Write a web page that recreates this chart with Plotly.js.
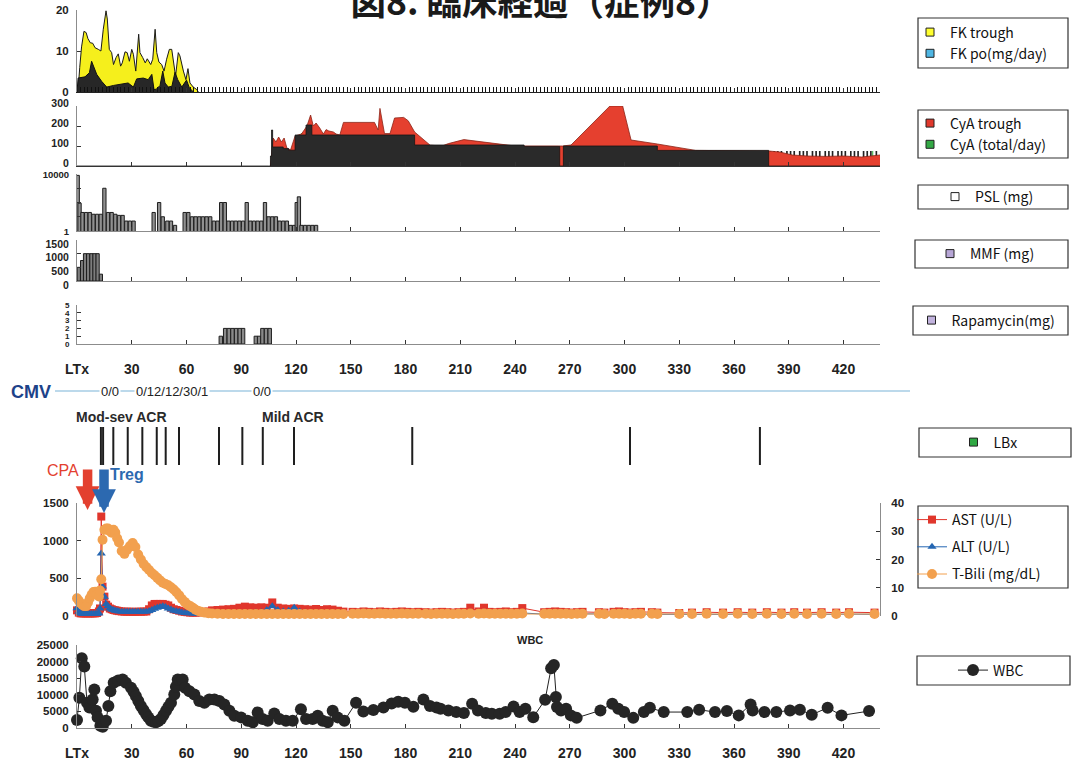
<!DOCTYPE html>
<html><head><meta charset="utf-8">
<script src="https://cdn.plot.ly/plotly-3.0.1.min.js"></script>
<style>html,body{margin:0;padding:0;background:#fff;}#chart{width:1074px;height:763px;}</style>
</head><body><div id="chart"></div>
<script>
// ---------------- DATA ----------------
const titleText = '図8. 臨床経過（症例8）';
const xTickVals = [0,30,60,90,120,150,180,210,240,270,300,330,360,390,420];
const xTickText = ['LTx','30','60','90','120','150','180','210','240','270','300','330','360','390','420'];

// FK panel
const fkTroughDays = [0,0.6,1.5,2.5,3.8,5,6,7.3,8.6,9.9,11.7,13.1,14.4,15.9,16.6,17.7,19,20,21.4,22.6,23.9,24.8,26.3,27.5,28.7,30,30.9,32.2,33.8,34.5,36,37.4,38.5,40.4,41.5,42.8,43.7,44.9,46.4,47.7,49.1,50.6,51.9,52.8,54,55.5,56.4,58.3,59.7,60.8,61.9,63.7,65.6,66.5];
const fkTroughVals = [0,0.5,6,11,14.8,14.5,13,12,11.9,10.8,10.4,10,15.3,19.8,17.8,10.4,9.6,6.7,8.4,9.3,6.3,7.1,9.8,9.6,7.5,10.4,9.2,5.1,14.1,9.6,8.4,7.1,8.1,6.7,8,15.3,9.6,7.3,6.7,5.1,8,10.4,10.4,7.1,3.9,9.6,8.8,5.1,3,5.7,2.2,1.2,0.6,0];
const fkPoDays = [0,0.6,4.4,6.8,8,9,10.8,13.5,16.3,20,23.6,28,30.9,32.7,36.3,39,41,42.2,43.5,45.5,47,48.2,50,52,53.7,55.2,57.4,60,61.6,62.8,63.8];
const fkPoVals = [0,3.4,3.7,4.7,7.5,6.3,4.3,2.6,1.2,1.6,1.8,2.2,1.2,3.2,3.4,3,4.3,0.6,0.7,1.6,5.1,2.2,1.2,1.4,4.8,3,1.2,2.9,1,0.4,0];

// CyA panel
const cyaTotalDays = [0,105,106,106.6,107.2,113,116,119.5,125.5,128.7,185,245,264.5,266.5,318,379,440];
const cyaTotalVals = [0,0,50,180,95,87,79,155,205,155,105,98,0,100,78,0,0];
const cyaTroughDays = [106,107.5,109,110.5,112,113.5,115,117,119.5,123,126,128,129.5,131,133,135,136.5,138,140.5,142,144,146,163,165,166,167.5,168.5,171.5,174,179,181.5,185,193.5,200,203.5,212,232,240,264,266,270.7,292,299,303.6,318,339,379,385,392,400,410,420,430,440];
const cyaTroughVals = [0,140,120,145,120,140,90,80,150,160,200,255,200,215,190,160,182,175,170,160,155,218,218,180,288,200,162,162,240,243,226,170,104,100,112,132,110,100,100,100,105,300,300,130,110,78,75,70,55,50,48,50,45,55];
const cyaCombDays = [380,382,384,386,389,391,393,396,398,400,403,405,407,410,412,414,417,419,421,424,426,428,431,433,435,438];
const cyaCombVals = [75,75,75,75,75,75,75,75,75,75,75,75,75,75,75,75,75,75,75,75,75,75,75,75,75,75];
const cyaGreenDays = [123,209,294,350,436];
const cyaGreenVals = [165,100,100,78,75];

// PSL (log), MMF, Rapamycin
const pslDays = [0.4,1.4,3,5,7,9,11,13,15,17,19,21,23,25,27,29,31,42,45,47,49.5,51.5,53.7,59,61,63,65,67,69,71,73,75,77,79,81,83,85,87,89,91,93,95,97,99,101,103,105,107,109,111,113,115,117,119,120.4,121.6,123,125,127,129,131];
const pslVals = [8000,90,20,20,20,15,15,15,1000,20,20,15,12.5,12.5,5,5,5,20,100,10,5,5,2.5,20,20,10,10,10,10,10,10,5,5,100,100,5,5,5,5,5,100,5,5,5,5,100,10,10,10,5,5,5,2.5,2.5,100,250,2.5,2.5,2.5,2.5,2.5];
const mmfDays = [1.0,2.8,4.4,6.1,7.9,9.6,11.3,13.1];
const mmfVals = [500,750,1000,1000,1000,1000,1000,250];
const rapaDays = [78.8,81.2,83.2,85.2,87.2,89.2,91,98,99.8,101.6,103.6,105.6];
const rapaVals = [1,2,2,2,2,2,2,1,1,2,2,2];

// CMV / biopsies / events
const cmvDays = [18.1,52,101.6];
const cmvText = ['0/0','0/12/12/30/1','0/0'];
const acrDays = [24.5,118.6];
const acrText = ['Mod-sev ACR','Mild ACR'];
const lbxDays = [13.1,14.3,19.9,27.8,35.8,43.7,48.6,55.9,77.8,90.6,101.8,118.9,183.7,303,374.2];
const lbxVals = [1,1,1,1,1,1,1,1,1,1,1,1,1,1,1];
const eventText = ['CPA','Treg'];
const eventDays = [5.8,14.8];

// Liver tests (AST, ALT on left axis; T-Bili on right axis)
const labDays = [0,1,2,3,4,5,6,7,8,9,10,11,12,12.6,13.3,14,15,16,17,18,19,20,21,22,23,
 24.5,26,27.5,29,30.5,32,33.5,35,36.5,38,39.5,41,42.5,44,45.5,47,48.5,50,51.5,53,54.5,56,57.5,59,60.5,62,63.5,65,66.5,
 68,70,72,74,
 77,80,83,86,89,92,95,98,101,104,107,110,113,116,119,122,125,128,131,134,137,140,143,146,
 151,154,157,160,163,166,169,172,175,178,181,184,187,191,194,197,200,203,206,209,212,215.5,220,223,226,229,232,235,238,241,244,256,259,262,265,268,271,274,277,286,289,294,297,300,303,306,309,315,318,330,337,345,354,362,370,378,386,393,400,408,416,423,437];
const astVals = [75,45,35,35,35,35,35,35,35,35,35,40,60,100,1320,390,257,150,124,100,90,80,75,70,65,
 60,57,57,57,55,55,57,57,58,60,90,140,160,160,160,160,150,140,110,90,80,70,60,55,50,45,45,45,48,
 50,55,60,75,
 80,85,90,95,110,124,115,110,115,110,180,110,100,95,100,95,90,85,93,80,90,85,70,58,
 55,50,60,55,50,60,55,50,55,60,55,50,55,50,45,50,55,50,45,50,55,110,60,110,55,50,55,60,50,55,105,50,55,60,55,50,45,50,55,50,45,55,60,50,45,50,55,50,45,40,45,50,45,50,45,50,45,50,45,50,45,50,45];
const altVals = [102,57,35,27,27,27,27,27,27,27,27,27,35,100,830,390,257,160,130,100,85,80,70,65,60,
 58,57,57,56,55,55,55,55,56,57,65,80,95,110,120,130,120,100,85,70,62,55,48,40,37,35,32,30,29,
 28,27,27,27,
 28,30,30,32,35,40,40,45,50,80,130,80,60,70,110,60,45,40,40,35,35,35,30,30,
 30,28,30,32,30,28,30,32,30,28,30,28,30,28,25,28,30,28,25,28,30,45,30,45,28,25,28,30,25,28,40,25,28,30,28,25,22,25,28,25,22,28,30,25,22,25,28,25,22,20,22,25,22,25,22,25,22,25,22,25,22,25,22];
const tbiliVals = [6.3,5.4,4.5,3.9,3.5,3.5,4.8,6.3,7.5,8.5,8.6,7.8,6.9,9,13,27,30.5,31,31,30,29.5,30.5,29.5,27.5,26,
 23,22,23.5,24.8,25.8,24.4,21.8,20,18.4,17.3,16.3,15.2,14.4,13.5,12.6,11.8,11.3,10.9,10.2,9.4,8.4,7.3,6,5,4.1,3.5,2.9,2.2,1.8,
 1.5,1.2,1.0,0.9,
 0.8,0.7,0.7,0.7,0.7,0.7,0.7,0.7,0.7,0.7,0.7,0.7,0.7,0.7,0.7,0.7,0.7,0.7,0.7,0.7,0.7,0.7,0.7,0.7,
 0.8,0.8,0.9,0.8,0.8,0.9,0.8,0.8,0.8,0.9,0.8,0.8,0.8,0.8,0.7,0.8,0.8,0.8,0.7,0.8,0.8,0.9,0.8,0.9,0.8,0.8,0.8,0.8,0.8,0.8,0.9,0.8,0.8,0.8,0.8,0.8,0.7,0.8,0.8,0.8,0.7,0.8,0.8,0.8,0.7,0.8,0.8,0.8,0.7,0.7,0.7,0.8,0.7,0.8,0.7,0.8,0.7,0.8,0.7,0.8,0.7,0.8,0.7];

// WBC
const wbcDays = [0,1.3,2.6,4,5.5,6.8,8.6,9.5,10.4,11.3,12.8,14.1,15.9,17.2,18.3,20.1,22.6,25,26.8,29.6,31,32.3,33.6,35,36.4,37.8,39.1,40.5,42,43.3,44.6,46,47.4,48.8,50.1,51.5,53.3,54.2,55.2,57.9,59.2,61.6,64.3,67,69.8,72.5,75.3,78,80.7,83.5,86.2,89.9,93.5,96.3,99,101.7,104.5,108.1,110.9,114.5,118.2,122.7,125.5,129.1,131.9,134.6,137.4,140.1,142.8,146.5,152.9,156.9,162.4,167.9,172.4,176,179.7,184.3,189.8,193.4,197,199.2,203.5,207.8,212,216.5,219.7,224,227.3,231.6,234.9,239.2,242.5,245.7,250,256.5,259.8,261.3,262.4,263,265.2,268,270.6,273.8,286.8,293.3,296.6,299.8,304.8,310.6,313.9,321.5,334.4,340.9,349.6,356.1,362.6,369.1,370.2,376.7,383.2,390.7,396.1,402.6,411.3,418.9,434];
const wbcVals = [2400,9100,21000,18500,7600,6150,8600,11600,5200,3200,700,400,2200,6650,11100,13600,14300,14600,13600,12100,10900,9600,8100,6650,5400,4200,3200,2200,1900,1700,2100,2700,3900,5200,6400,7600,10100,12400,14600,14600,12100,11100,10100,8100,7600,8600,8600,8100,7100,5200,3700,3200,2200,1700,4700,2700,2200,4400,2700,2200,2200,5650,2700,2700,3700,2200,1700,5200,3200,2200,7600,4940,5400,6200,7400,7900,7600,6400,8600,6600,6200,5800,5300,4800,4500,7300,5300,4500,4300,4300,4800,6500,4800,5800,3250,8500,18000,19000,9350,6300,5300,5800,3800,3050,5300,7300,5800,4800,3050,4800,6100,4800,4800,5500,4800,5100,3800,7100,5300,4800,4800,5300,5500,4000,6100,3800,5100];

// legend-only entries
const legendNames = ['FK trough','FK po(mg/day)','CyA trough','CyA (total/day)','PSL (mg)','MMF (mg)','Rapamycin(mg)','LBx'];
const legendColors = ['#ffff2e','#4fb6e3','#e0382c','#33a845','#ffffff','#b7a6d6','#c2b3de','#2fa843'];
const legendGroups = ['legend','legend','legend2','legend2','legend3','legend4','legend5','legend6'];

// ---------------- LAYOUT HELPERS ----------------
const W = 1074, H = 763;
const PX = x => x / W;
const PY = y => 1 - y / H;
const DOM = (top, bot) => [1 - bot / H, 1 - top / H];
const XD = [77 / W, 880 / W];
const tickFont = {family: 'Liberation Sans, Arial, sans-serif', size: 11.5, color: '#222', weight: 'bold'};
const smallTick = Object.assign({}, tickFont, {size: 10.5});
const xLabFont = {family: 'Liberation Sans, Arial, sans-serif', size: 14, color: '#222', weight: 'bold'};

const traces = [];
// FK
traces.push({type:'scatter', x:fkTroughDays, y:fkTroughVals, xaxis:'x', yaxis:'y', mode:'lines', fill:'tozeroy', fillcolor:'#f5ef1c', line:{color:'#1a1a1a', width:1}, showlegend:false, hoverinfo:'skip'});
traces.push({type:'scatter', x:fkPoDays, y:fkPoVals, xaxis:'x', yaxis:'y', mode:'lines', fill:'tozeroy', fillcolor:'#272727', line:{color:'#111', width:1}, showlegend:false, hoverinfo:'skip'});
// CyA
traces.push({type:'scatter', x:cyaTroughDays, y:cyaTroughVals, xaxis:'x2', yaxis:'y2', mode:'lines', fill:'tozeroy', fillcolor:'#e5402f', line:{color:'#8a2418', width:0.8}, showlegend:false, hoverinfo:'skip'});
traces.push({type:'scatter', x:cyaTotalDays, y:cyaTotalVals, xaxis:'x2', yaxis:'y2', mode:'lines', line:{shape:'hv', color:'#151515', width:0.8}, fill:'tozeroy', fillcolor:'#2a2a2a', showlegend:false, hoverinfo:'skip'});
traces.push({type:'bar', x:cyaCombDays, y:cyaCombVals, xaxis:'x2', yaxis:'y2', width:0.9, marker:{color:'#222'}, showlegend:false, hoverinfo:'skip'});
traces.push({type:'bar', x:cyaGreenDays, y:cyaGreenVals, xaxis:'x2', yaxis:'y2', width:0.6, marker:{color:'#3cb44b'}, showlegend:false, hoverinfo:'skip'});
// PSL / MMF / Rapa
traces.push({type:'bar', x:pslDays, y:pslVals, xaxis:'x3', yaxis:'y3', width:1.8, marker:{color:'#909090', line:{color:'#1e1e1e', width:1}}, showlegend:false, hoverinfo:'skip'});
traces.push({type:'bar', x:mmfDays, y:mmfVals, xaxis:'x4', yaxis:'y4', width:1.75, marker:{color:'#7d7d7d', line:{color:'#1e1e1e', width:1}}, showlegend:false, hoverinfo:'skip'});
traces.push({type:'bar', x:rapaDays, y:rapaVals, xaxis:'x5', yaxis:'y5', width:1.9, marker:{color:'#8a8a8a', line:{color:'#1e1e1e', width:1}}, showlegend:false, hoverinfo:'skip'});
// LBx
traces.push({type:'bar', x:lbxDays, y:lbxVals, xaxis:'x6', yaxis:'y6', width:1.1, marker:{color:'#1e1e1e'}, showlegend:false, hoverinfo:'skip'});
// Labs
traces.push({type:'scatter', x:labDays, y:astVals, xaxis:'x7', yaxis:'y7', mode:'lines+markers', name:'AST (U/L)', legend:'legend7', legendgroup:'a',
  line:{color:'#e0362c', width:1}, marker:{symbol:'square', size:8, color:'#e0362c'}, cliponaxis:false});
traces.push({type:'scatter', x:labDays, y:altVals, xaxis:'x7', yaxis:'y7', mode:'lines+markers', name:'ALT (U/L)', legend:'legend7', legendgroup:'b',
  line:{color:'#2466b2', width:1}, marker:{symbol:'triangle-up', size:8, color:'#2466b2'}, cliponaxis:false});
traces.push({type:'scatter', x:labDays, y:tbiliVals, xaxis:'x7', yaxis:'y8', mode:'lines+markers', name:'T-Bili (mg/dL)', legend:'legend7', legendgroup:'c',
  line:{color:'#f2a04e', width:1}, marker:{symbol:'circle', size:10, color:'#f2a04e'}, cliponaxis:false});
// WBC
traces.push({type:'scatter', x:wbcDays, y:wbcVals, xaxis:'x8', yaxis:'y9', mode:'lines+markers', name:'WBC', legend:'legend8',
  line:{color:'#222', width:1}, marker:{symbol:'circle', size:12, color:'#252525'}, cliponaxis:false});
// legend-only swatches
legendNames.forEach((n, i) => {
  traces.push({type:'scatter', x:[null], y:[null], xaxis:'x', yaxis:'y', mode:'markers', name:n, legend:legendGroups[i],
    marker:{symbol:'square', size:8, color:legendColors[i], line:{color:'#222', width:1}}, hoverinfo:'skip'});
});

const xBase = {domain:XD, range:[0,440], showgrid:false, zeroline:false, showline:true, linecolor:'#8c8c8c', linewidth:1,
  tickmode:'array', tickvals:xTickVals, ticktext:xTickText, ticks:'inside', ticklen:4, tickcolor:'#333', showticklabels:false, fixedrange:true};
const yBase = {showgrid:false, zeroline:false, showline:true, linecolor:'#8c8c8c', linewidth:1, ticks:'inside', ticklen:4, tickcolor:'#333',
  tickfont:tickFont, ticklabelstandoff:5, tickformat:'d', fixedrange:true};

const legFont = {family:'Noto Sans CJK JP, sans-serif', size:14, color:'#111'};
const legAt = (x, y, xa) => ({x:PX(x), y:PY(y), xanchor:xa, yanchor:'middle', bgcolor:'rgba(0,0,0,0)', borderwidth:0, font:legFont, itemwidth:30});

const boxes = [[918,18,1068,68],[918,110,1068,158],[918,185,1068,209],[915,240,1068,268],[913,306,1068,335],[919,428,1071,457],[918,506,1068,588],[917,656,1070,685]];

const shapes = boxes.map(b => ({type:'rect', xref:'paper', yref:'paper', x0:PX(b[0]), x1:PX(b[2]), y0:PY(b[3]), y1:PY(b[1]), line:{color:'#333', width:1.2}, fillcolor:'rgba(0,0,0,0)'}));
shapes.push({type:'line', xref:'paper', yref:'paper', x0:PX(55), x1:PX(910), y0:PY(391), y1:PY(391), line:{color:'#a6cde4', width:1.5}, layer:'below'});

const annotations = [];
annotations.push({xref:'paper', yref:'paper', x:PX(31), y:PY(392), text:'<b>CMV</b>', showarrow:false, xanchor:'center', yanchor:'middle',
  font:{family:'Liberation Sans, Arial, sans-serif', size:18, color:'#1d4289'}});
cmvDays.forEach((d, i) => annotations.push({xref:'x6', yref:'paper', x:d, y:PY(391), text:cmvText[i], showarrow:false, xanchor:'center', yanchor:'middle',
  bgcolor:'#ffffff', font:{family:'Liberation Sans, Arial, sans-serif', size:13, color:'#222'}}));
acrDays.forEach((d, i) => annotations.push({xref:'x6', yref:'paper', x:d, y:PY(417), text:'<b>'+acrText[i]+'</b>', showarrow:false, xanchor:'center', yanchor:'middle',
  font:{family:'Liberation Sans, Arial, sans-serif', size:14, color:'#2a2a2a'}}));
const evColors = ['#e3402f','#2c69b0'];
const evTip = [1407, 1368];
const evTail = [-42, -45];
const evLabelShift = [-25, 23];
const evLabelY = [470, 474];
eventDays.forEach((d, i) => {
  annotations.push({xref:'x7', yref:'y7', x:d, y:evTip[i], ax:0, ay:evTail[i], text:'', showarrow:true, arrowhead:2, arrowsize:0.5, arrowwidth:9.5, arrowcolor:evColors[i], standoff:0});
  annotations.push({xref:'x7', yref:'paper', x:d, xshift:evLabelShift[i], y:PY(evLabelY[i]), text:(i===1?'<b>'+eventText[i]+'</b>':eventText[i]), showarrow:false, xanchor:'center', yanchor:'middle',
    font:{family:'Liberation Sans, Arial, sans-serif', size:16, color:evColors[i]}});
});
annotations.push({xref:'paper', yref:'paper', x:PX(530), y:PY(640), text:'<b>WBC</b>', showarrow:false, xanchor:'center', yanchor:'middle',
  font:{family:'Liberation Sans, Arial, sans-serif', size:11, color:'#222'}});

const layout = {
  width:W, height:H, margin:{l:0, r:0, t:0, b:0}, paper_bgcolor:'#fff', plot_bgcolor:'rgba(0,0,0,0)',
  barmode:'overlay', hovermode:false,
  title:{text:titleText, x:PX(541), xanchor:'center', xref:'container', y:0.997, yanchor:'middle', yref:'container',
    font:{family:'Noto Sans CJK JP, sans-serif', size:35.5, color:'#1a1a1a', weight:'bold'}},
  xaxis: Object.assign({}, xBase, {anchor:'y', linecolor:'#222', tickmode:'linear', tick0:0, dtick:30,
    minor:{tickmode:'linear', tick0:0, dtick:2, ticks:'inside', ticklen:5, tickcolor:'#111'}}),
  xaxis2: Object.assign({}, xBase, {anchor:'y2', matches:'x', linecolor:'#333'}),
  xaxis3: Object.assign({}, xBase, {anchor:'y3', matches:'x'}),
  xaxis4: Object.assign({}, xBase, {anchor:'y4', matches:'x'}),
  xaxis5: Object.assign({}, xBase, {anchor:'y5', matches:'x', showticklabels:true, tickfont:xLabFont, ticklabelstandoff:12}),
  xaxis6: Object.assign({}, xBase, {anchor:'y6', matches:'x', visible:false}),
  xaxis7: Object.assign({}, xBase, {anchor:'y7', matches:'x', showline:false, ticks:''}),
  xaxis8: Object.assign({}, xBase, {anchor:'y9', matches:'x', showticklabels:true, tickfont:xLabFont, ticklabelstandoff:12}),
  yaxis: Object.assign({}, yBase, {anchor:'x', domain:DOM(10,92), range:[0,20], dtick:10}),
  yaxis2: Object.assign({}, yBase, {anchor:'x2', domain:DOM(106,166), range:[0,300], dtick:100, tickfont:smallTick, ticklabelshift:-3}),
  yaxis3: Object.assign({}, yBase, {anchor:'x3', domain:DOM(174,231), type:'log', range:[0,4], tickmode:'array', tickvals:[1,10,100,1000,10000], ticktext:['1','','','','10000'],
    tickfont:Object.assign({}, tickFont, {size:9.5}), ticklabelshift:1}),
  yaxis4: Object.assign({}, yBase, {anchor:'x4', domain:DOM(240,281), range:[0,1500], dtick:500, tickfont:smallTick, ticklabelshift:4}),
  yaxis5: Object.assign({}, yBase, {anchor:'x5', domain:DOM(305,344), range:[0,5], dtick:1, tickfont:Object.assign({}, tickFont, {size:8})}),
  yaxis6: {anchor:'x6', domain:DOM(427,465), range:[0,1], visible:false, fixedrange:true},
  yaxis7: Object.assign({}, yBase, {anchor:'x7', domain:DOM(503,616), range:[0,1500], dtick:500}),
  yaxis8: Object.assign({}, yBase, {anchor:'x7', overlaying:'y7', side:'right', range:[0,40], dtick:10, ticklabelstandoff:8}),
  yaxis9: Object.assign({}, yBase, {anchor:'x8', domain:DOM(645,728), range:[0,25000], dtick:5000}),
  legend: legAt(910,43,'left'),
  legend2: legAt(910,134,'left'),
  legend3: legAt(987,197,'center'),
  legend4: legAt(985,254,'center'),
  legend5: legAt(986,320.5,'center'),
  legend6: legAt(988,442.5,'center'),
  legend7: Object.assign(legAt(912,547,'left'), {traceorder:'grouped', tracegroupgap:6}),
  legend8: legAt(991,670.5,'center'),
  shapes: shapes,
  annotations: annotations
};

Plotly.newPlot('chart', traces, layout, {displayModeBar:false, staticPlot:true});
</script>
</body></html>
